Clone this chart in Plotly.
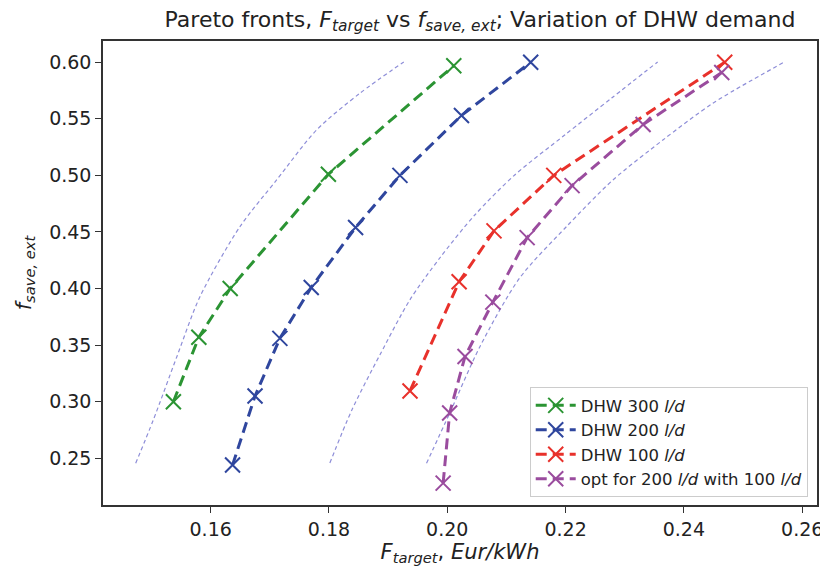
import plotly.graph_objects as go

# Pareto fronts (F_target, f_save_ext)
dhw300_x = [0.1537, 0.1580, 0.1633, 0.1799, 0.2011]
dhw300_y = [0.300, 0.357, 0.400, 0.501, 0.597]

dhw200_x = [0.1637, 0.1675, 0.1717, 0.1770, 0.1845, 0.1920, 0.2024, 0.2141]
dhw200_y = [0.244, 0.305, 0.356, 0.401, 0.454, 0.500, 0.553, 0.600]

dhw100_x = [0.1937, 0.2020, 0.2079, 0.2180, 0.2469]
dhw100_y = [0.3095, 0.406, 0.451, 0.500, 0.600]

opt_x = [0.1993, 0.2004, 0.2030, 0.2077, 0.2135, 0.2211, 0.2331, 0.2464]
opt_y = [0.228, 0.290, 0.340, 0.388, 0.445, 0.491, 0.545, 0.591]

# thin guide curves
guide1_x = [0.14733, 0.15030, 0.15430, 0.15819, 0.16495, 0.17115, 0.17791, 0.18522, 0.19265]
guide1_y = [0.2456, 0.2838, 0.3400, 0.3928, 0.4547, 0.4960, 0.5402, 0.5726, 0.6003]
guide2_x = [0.18015, 0.18387, 0.18860, 0.19367, 0.19873, 0.20465, 0.21140, 0.21985, 0.22779, 0.23556]
guide2_y = [0.2458, 0.2927, 0.3413, 0.3899, 0.4270, 0.4650, 0.5004, 0.5357, 0.5684, 0.6003]
guide3_x = [0.19649, 0.20042, 0.20549, 0.21225, 0.22014, 0.22801, 0.23645, 0.24490, 0.25701]
guide3_y = [0.2456, 0.2900, 0.3484, 0.4094, 0.4547, 0.4960, 0.5313, 0.5638, 0.6003]

x_ticks = [0.16, 0.18, 0.20, 0.22, 0.24, 0.26]
y_ticks = [0.25, 0.30, 0.35, 0.40, 0.45, 0.50, 0.55, 0.60]

series = [
    ("DHW 300 <i>l/d</i>", dhw300_x, dhw300_y, "#2b9433"),
    ("DHW 200 <i>l/d</i>", dhw200_x, dhw200_y, "#2f469e"),
    ("DHW 100 <i>l/d</i>", dhw100_x, dhw100_y, "#e8312b"),
    ("opt for 200 <i>l/d</i> with 100 <i>l/d</i>", opt_x, opt_y, "#9a4c9e"),
]
guides = [(guide1_x, guide1_y), (guide2_x, guide2_y), (guide3_x, guide3_y)]

fig = go.Figure()
for gx, gy in guides:
    fig.add_trace(go.Scatter(x=gx, y=gy, mode="lines", showlegend=False,
                             line=dict(color="#8e8ed8", width=1.2, dash="4px,3px", shape="spline",
                                       smoothing=0.8),
                             hoverinfo="skip"))
for name, xs, ys, c in series:
    fig.add_trace(go.Scatter(
        x=xs, y=ys, mode="lines+markers", name=name,
        line=dict(color=c, width=3, dash="11px,6px"),
        marker=dict(symbol="x-thin", size=15, color=c, line=dict(color=c, width=2)),
    ))

axis_common = dict(showline=True, mirror=True, linecolor="#333333", linewidth=1.5,
                   ticks="outside", ticklen=6, tickwidth=1.3, tickcolor="#333333",
                   showgrid=False, zeroline=False, automargin=False,
                   tickfont=dict(family="DejaVu Sans", size=19, color="#222222"),
                   tickformat=".2f")

W, H = 820, 565  # page adds an 8px body offset
fig.update_layout(
    width=W, height=H,
    margin=dict(l=95, r=11, t=33, b=68),
    paper_bgcolor="white", plot_bgcolor="white",
    font=dict(family="DejaVu Sans", color="#222222"),
    title=dict(text="Pareto fronts, <i>F</i><sub><i>target</i></sub> vs <i>f</i><sub><i>save, ext</i></sub>; Variation of DHW demand",
               x=472 / W, xanchor="center", y=1 - 11 / H, yanchor="middle",
               font=dict(size=22, family="DejaVu Sans", color="#222222"), automargin=False),
    xaxis=dict(range=[0.1418, 0.2625], tickvals=x_ticks,
               title=dict(text="<i>F</i><sub><i>target</i></sub>, <i>Eur/kWh</i>",
                          font=dict(size=21), standoff=4), **axis_common),
    yaxis=dict(range=[0.2087, 0.6188], tickvals=y_ticks,
               title=dict(text="<i>f</i><sub><i>save, ext</i></sub>",
                          font=dict(size=21), standoff=12), **axis_common),
    legend=dict(x=0.987, y=0.017, xanchor="right", yanchor="bottom",
                bgcolor="rgba(255,255,255,0.9)", bordercolor="#cccccc", borderwidth=1,
                font=dict(size=16.5, family="DejaVu Sans", color="#222222"),
                itemwidth=40, tracegroupgap=0),
    showlegend=True,
)

fig.write_html("out.html")
